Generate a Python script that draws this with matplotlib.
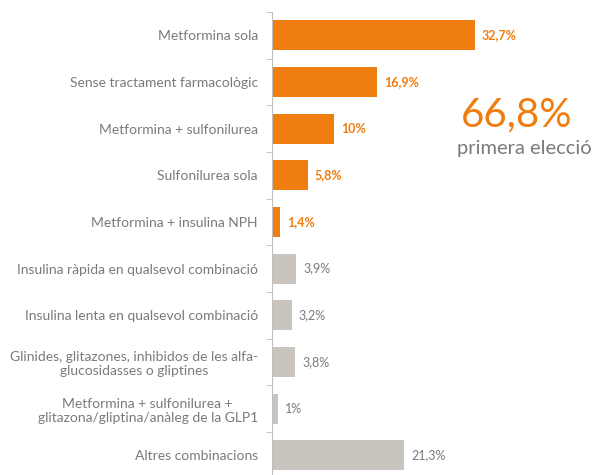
import matplotlib.pyplot as plt
import numpy as np

# Categories (top to bottom) and percentages
categories = [
    "Metformina sola",
    "Sense tractament farmacològic",
    "Metformina + sulfonilurea",
    "Sulfonilurea sola",
    "Metformina + insulina NPH",
    "Insulina ràpida en qualsevol combinació",
    "Insulina lenta en qualsevol combinació",
    "Glinides, glitazones, inhibidos de les alfa-\nglucosidasses o gliptines",
    "Metformina + sulfonilurea +\nglitazona/gliptina/anàleg de la GLP1",
    "Altres combinacions",
]
values = [32.7, 16.9, 10, 5.8, 1.4, 3.9, 3.2, 3.8, 1, 21.3]
value_labels = ["32,7%", "16,9%", "10%", "5,8%", "1,4%",
                "3,9%", "3,2%", "3,8%", "1%", "21,3%"]
first_choice = [True, True, True, True, True,
                False, False, False, False, False]
total_label = "66,8%"
total_caption = "primera elecció"

ORANGE = "#EF7D0F"
GREY_BAR = "#C9C4BE"
GREY_TXT = "#7A7A7A"

plt.rcParams["font.family"] = ["Lato", "DejaVu Sans"]

fig = plt.figure(figsize=(5.95, 4.75), dpi=100)
ax = fig.add_axes([0.4567, -0.0076, 0.5433, 0.9823])

y = np.arange(len(categories))
colors = [ORANGE if f else GREY_BAR for f in first_choice]
ax.barh(y, values, height=0.64, color=colors)

for yi, v, lab, f in zip(y, values, value_labels, first_choice):
    ax.text(v + 1.15, yi, lab, va="center", ha="left", fontsize=9,
            color=ORANGE if f else GREY_TXT,
            fontweight="bold" if f else "normal")

ax.set_ylim(len(categories) - 0.5, -0.5)
ax.set_xlim(0, 52.07)
ax.set_yticks(y)
ax.set_yticklabels(categories, fontsize=10, color=GREY_TXT,
                   ha="right", multialignment="center")
ax.set_yticks(np.arange(len(categories) + 1) - 0.5, minor=True)
ax.tick_params(axis="y", which="major", length=0, pad=10)
ax.tick_params(axis="y", which="minor", length=4, color="#BFBFBF")
ax.set_xticks([])
for s in ["top", "right", "bottom"]:
    ax.spines[s].set_visible(False)
ax.spines["left"].set_color("#BFBFBF")

fig.text(0.869, 0.758, total_label, ha="center", va="center",
         fontsize=29, color=ORANGE)
fig.text(0.882, 0.688, total_caption, ha="center", va="center",
         fontsize=14.5, color=GREY_TXT)

fig.savefig("out.png", dpi=100)
